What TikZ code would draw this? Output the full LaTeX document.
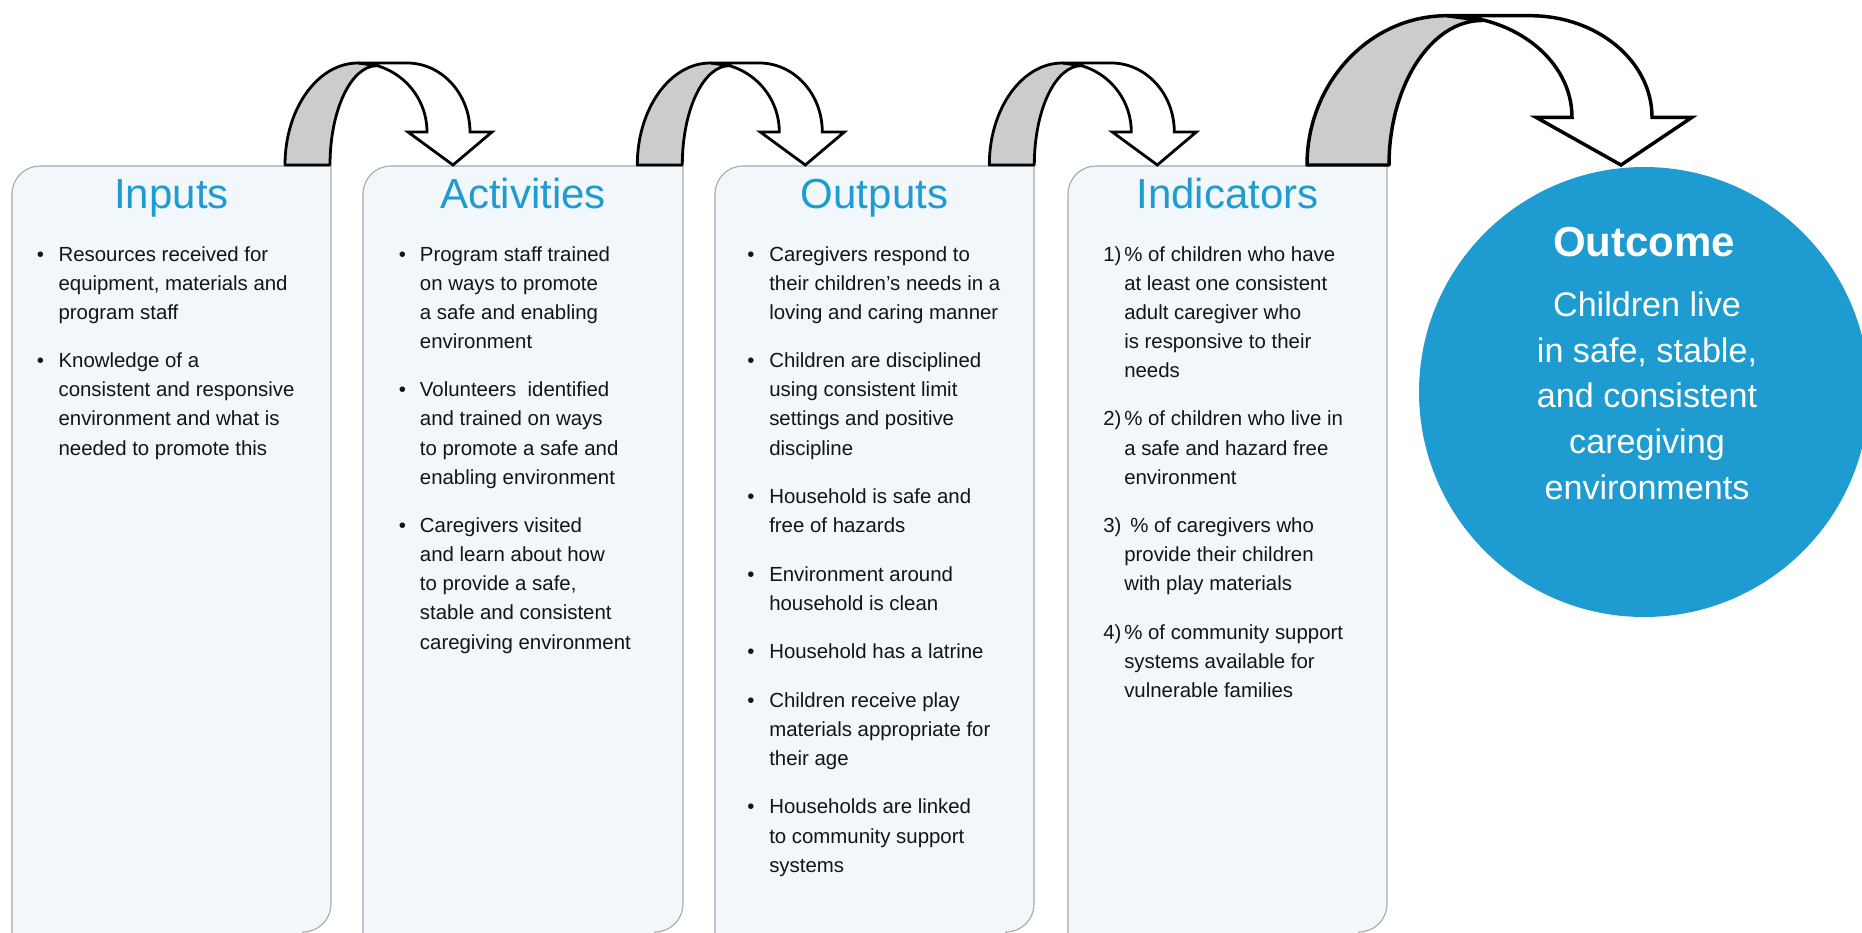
\documentclass[tikz,border=0pt]{standalone}
\usepackage{fontspec}
\setmainfont{Liberation Sans}
\definecolor{cblue}{HTML}{1E9BD0}
\definecolor{boxfill}{HTML}{F2F7FC}
\definecolor{boxline}{HTML}{A6A6A6}
\definecolor{txt}{HTML}{141414}
\definecolor{argray}{HTML}{CCCCCC}
\newcommand\panelpath[2]{%
  \path[panelbox] (#1,934) -- (#1,194) .. controls (#1,178.5) and (#1+12.5,166) .. (#1+28,166)
    -- (#2,166) -- (#2,904) .. controls (#2,919.5) and (#2-12.5,932) .. (#2-28,932) -- (#2-28,934) -- cycle;}
\newcommand\bodylines[4]{\foreach \t [count=\i from 0] in {#4}{\node[body] (#1-\i) at (#2,#3+29.1*\i) {\t};}}
\newcommand\smallarrow[1]{%
  \begin{scope}[shift={(#1,0)}]
    \draw[backband] (285,165) .. controls (285,108.7) and (317.7,63) .. (358,63) -- (377,65.7)
      .. controls (351,65.7) and (330,110.2) .. (330,165) -- cycle;
    \draw[frontband] (358,63) -- (407,63) .. controls (441.8,63) and (470,93.9) .. (470,132)
      -- (492,132) -- (453,165) -- (408,132) -- (427,132)
      .. controls (427,93.9) and (396.1,63) .. (358,63) -- cycle;
  \end{scope}}
\begin{document}
\begin{tikzpicture}[x=0.75pt,y=-0.75pt,
  panelbox/.style={fill=boxfill,draw=boxline,line width=0.8pt},
  backband/.style={fill=argray,draw=black,line width=2.1pt,line join=round},
  frontband/.style={fill=white,draw=black,line width=2.1pt,line join=miter},
  body/.style={font=\fontsize{15.3}{18}\selectfont,text=txt,anchor=base west,inner sep=0pt},
  bul/.style={body},
  ttl/.style={font=\fontsize{31.5}{36}\selectfont,text=cblue,anchor=base,inner sep=0pt},
  outtl/.style={font=\bfseries\fontsize{31.5}{36}\selectfont,text=white,anchor=base,inner sep=0pt},
  outbody/.style={font=\fontsize{25.6}{30}\selectfont,text=white,anchor=base,inner sep=0pt}]
\useasboundingbox (0,0) rectangle (1862,932);
\clip (0,0) rectangle (1862,932);

% panels
\panelpath{12}{331}
\panelpath{363}{683}
\panelpath{715}{1034}
\panelpath{1068}{1387}

% outcome circle
\fill[cblue] (1644,392) circle[radius=225];

% curved arrows
\smallarrow{0}
\smallarrow{352.3}
\smallarrow{704.3}
\draw[backband,line width=2.6pt] (1307,165) .. controls (1307,82.6) and (1369.7,15.7) .. (1447,15.7) -- (1482,20.5)
  .. controls (1430.7,20.5) and (1389,86.1) .. (1389,165) -- cycle;
\draw[frontband,line width=2.6pt] (1447,15.7) -- (1530,15.7) .. controls (1597.3,15.7) and (1652,61.2) .. (1652,117.3)
  -- (1692,117.3) -- (1621,165) -- (1536,117.3) -- (1572,117.3)
  .. controls (1572,61.2) and (1516,15.7) .. (1447,15.7) -- cycle;

% Inputs
\node[ttl] (t-in) at (171.5,208) {Inputs};
\node[bul] (b-in1) at (36.5,261) {•};
\bodylines{in1}{58.3}{261}{Resources received for,{equipment, materials and},program staff}
\node[bul] (b-in2) at (36.5,367.7) {•};
\bodylines{in2}{58.3}{367.7}{Knowledge of a,consistent and responsive,environment and what is,needed to promote this}

% Activities
\node[ttl] (t-ac) at (523,208) {Activities};
\node[bul] (b-ac1) at (398.5,261) {•};
\bodylines{ac1}{419.7}{261}{Program staff trained,on ways to promote,a safe and enabling,environment}
\node[bul] (b-ac2) at (398.5,396.8) {•};
\bodylines{ac2}{419.7}{396.8}{Volunteers\ \ identified,and trained on ways,to promote a safe and,enabling environment}
\node[bul] (b-ac3) at (398.5,532.6) {•};
\bodylines{ac3}{419.7}{532.6}{Caregivers visited,and learn about how,{to provide a safe,},stable and consistent,caregiving environment}

% Outputs
\node[ttl] (t-ou) at (874.5,208) {Outputs};
\foreach \y [count=\k] in {261,367.7,503.5,581.1,658.7,707.2,813.9}{\node[bul] (b-ou\k) at (747,\y) {•};}
\bodylines{ou1}{769}{261}{Caregivers respond to,their children’s needs in a,loving and caring manner}
\bodylines{ou2}{769}{367.7}{Children are disciplined,using consistent limit,settings and positive,discipline}
\bodylines{ou3}{769}{503.5}{Household is safe and,free of hazards}
\bodylines{ou4}{769}{581.1}{Environment around,household is clean}
\bodylines{ou5}{769}{658.7}{Household has a latrine}
\bodylines{ou6}{769}{707.2}{Children receive play,materials appropriate for,their age}
\bodylines{ou7}{769}{813.9}{Households are linked,to community support,systems}

% Indicators
\node[ttl] (t-id) at (1227.5,208) {Indicators};
\node[body] (n-id1) at (1103,261) {1)};
\bodylines{id1}{1124}{261}{\% of children who have,at least one consistent,adult caregiver who,is responsive to their,needs}
\node[body] (n-id2) at (1103,425.9) {2)};
\bodylines{id2}{1124}{425.9}{\% of children who live in,a safe and hazard free,environment}
\node[body] (n-id3) at (1103,532.6) {3)};
\node[body] (id3-0) at (1130,532.6) {\% of caregivers who};
\bodylines{id3}{1124}{561.7}{provide their children,with play materials}
\node[body] (n-id4) at (1103,639.3) {4)};
\bodylines{id4}{1124}{639.3}{\% of community support,systems available for,vulnerable families}

% Outcome text
\node[outtl] (oc-t) at (1644,256) {Outcome};
\foreach \t [count=\i from 0] in {Children live,{in safe, stable,},and consistent,caregiving,environments}
  {\node[outbody] (oc-\i) at (1647,316.7+45.6*\i) {\t};}
\end{tikzpicture}
\end{document}
